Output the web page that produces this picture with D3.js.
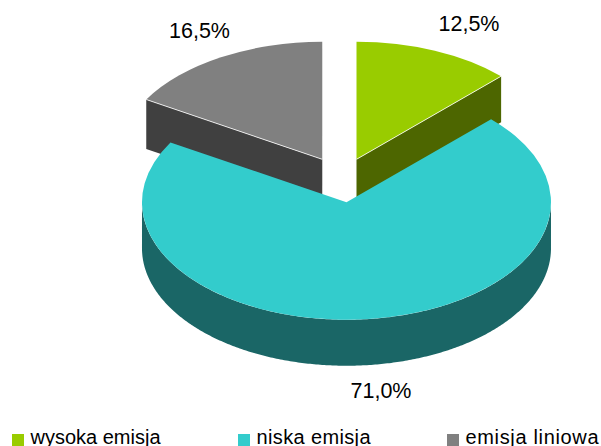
<!DOCTYPE html>
<html>
<head>
<meta charset="utf-8">
<script src="https://cdn.jsdelivr.net/npm/d3@7/dist/d3.min.js"></script>
<style>
  html, body { margin: 0; padding: 0; background: #fff; overflow: hidden; }
  svg { display: block; }
  text { font-family: "Liberation Sans", Arial, sans-serif; fill: #000; }
</style>
</head>
<body>
<svg id="chart" width="601" height="446"></svg>
<script>
// data
var categories = ["wysoka emisja", "niska emisja", "emisja liniowa"],
    values = [12.5, 71.0, 16.5],
    valueLabels = ["12,5%", "71,0%", "16,5%"],
    topColors = ["#99cc00", "#33cccc", "#808080"],
    sideColors = ["#4d6600", "#1a6666", "#404040"];

var width = 601,
    height = 446;

// pie geometry
var cx = 341.6,
    cy = 180,
    rx = 204.5,
    ry = 117.5,
    depth = 46,
    explode = 39;

// the grey slice sits a little higher and looks a little deeper in the original
var nudgeY = d3.scaleOrdinal(categories, [0, 0, -1.2]),
    sliceDepth = d3.scaleOrdinal(categories, [depth, depth, 49.5]);

var svg = d3.select("#chart");

var pie = d3.pie().sort(null).value(function(d) { return d; });
var slices = pie(values);

var arc = d3.arc().innerRadius(0).outerRadius(rx);

var line = d3.line()
    .x(function(d) { return d[0]; })
    .y(function(d) { return d[1]; });

// slice centre, pushed out along the middle of the slice
function centre(d, i) {
  var mid = (d.startAngle + d.endAngle) / 2;
  return [cx + explode * Math.sin(mid),
          cy - explode * Math.cos(mid) * ry / rx + nudgeY(categories[i])];
}

function rim(c, a) {
  return [c[0] + rx * Math.sin(a), c[1] - ry * Math.cos(a)];
}

// cut face of a slice, from the centre out to the rim
function face(c, a, h) {
  var r = rim(c, a);
  return line([c, r, [r[0], r[1] + h], [c[0], c[1] + h]]) + "Z";
}

// outer wall, only the front half of the rim is seen
function wall(c, d, h) {
  var a0 = Math.max(d.startAngle, Math.PI / 2),
      a1 = Math.min(d.endAngle, Math.PI * 3 / 2);
  if (a1 <= a0) return null;
  var angles = d3.range(a0, a1, 0.01).concat([a1]);
  var upper = angles.map(function(a) { return rim(c, a); });
  var lower = upper.map(function(p) { return [p[0], p[1] + h]; }).reverse();
  return line(upper.concat(lower)) + "Z";
}

// back slices first, the big one goes on top
var order = [2, 0, 1];

order.forEach(function(i) {
  var d = slices[i],
      c = centre(d, i),
      h = sliceDepth(categories[i]),
      g = svg.append("g").attr("class", "slice");

  if (Math.sin(d.startAngle) < -1e-6) {
    g.append("path").attr("d", face(c, d.startAngle, h)).attr("fill", sideColors[i]);
  }
  if (Math.sin(d.endAngle) > 1e-6) {
    g.append("path").attr("d", face(c, d.endAngle, h)).attr("fill", sideColors[i]);
  }
  var w = wall(c, d, h);
  if (w) g.append("path").attr("d", w).attr("fill", sideColors[i]);

  g.append("path")
      .attr("d", arc(d))
      .attr("fill", topColors[i])
      .attr("transform", "translate(" + c[0] + "," + c[1] + ") scale(1," + (ry / rx) + ")");

  // thin light edge along the cut
  var edge = Math.sin(d.startAngle) < -1e-6 ? d.startAngle : Math.sin(d.endAngle) > 1e-6 && d.endAngle < Math.PI ? d.endAngle : null;
  if (edge !== null && i !== 1) {
    g.append("path")
        .attr("d", line([c, rim(c, edge)]))
        .attr("stroke", "#fff")
        .attr("stroke-width", 0.8)
        .attr("fill", "none");
  }
});

// value labels
var labelX = d3.scaleOrdinal(categories, [469, 381, 199.5]),
    labelY = d3.scaleOrdinal(categories, [31, 398, 38]);

svg.append("g").selectAll("text")
    .data(categories)
  .enter().append("text")
    .attr("x", function(d) { return labelX(d); })
    .attr("y", function(d) { return labelY(d); })
    .attr("text-anchor", "middle")
    .style("font-size", "21.5px")
    .text(function(d, i) { return valueLabels[i]; });

// legend, runs off the bottom of the window like the original
var legendX = d3.scaleOrdinal(categories, [12, 238, 447]),
    legendLength = d3.scaleOrdinal(categories, [130, 114, 133]);

var legend = svg.append("g").selectAll("g")
    .data(categories)
  .enter().append("g")
    .attr("transform", function(d) { return "translate(" + legendX(d) + ",0)"; });

legend.append("rect")
    .attr("y", 434)
    .attr("width", 12)
    .attr("height", 12)
    .attr("fill", function(d, i) { return topColors[i]; });

legend.append("text")
    .attr("x", 18.5)
    .attr("y", 444)
    .attr("textLength", function(d) { return legendLength(d); })
    .attr("lengthAdjust", "spacing")
    .style("font-size", "20px")
    .text(function(d) { return d; });
</script>
</body>
</html>
